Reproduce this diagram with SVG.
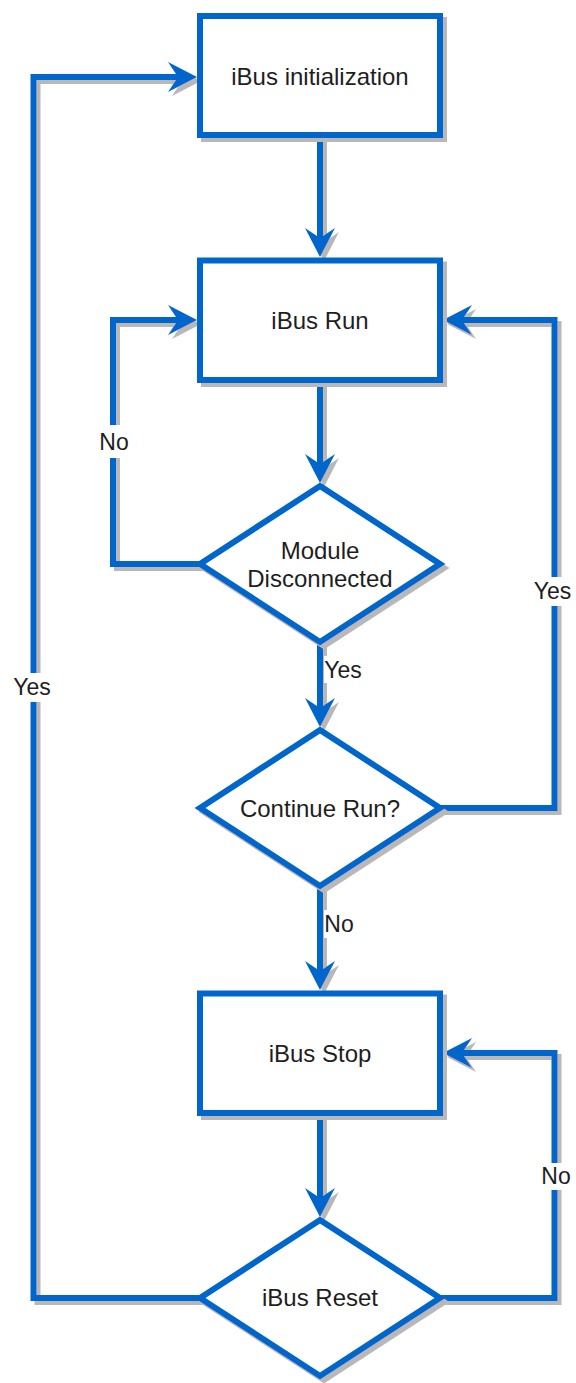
<svg xmlns="http://www.w3.org/2000/svg" width="576" height="1383" viewBox="0 0 576 1383">
  <style>
    .node { fill: #ffffff; stroke: #0066cc; stroke-width: 6; stroke-linejoin: miter; }
    .edge { fill: none; stroke: #0066cc; stroke-width: 6; stroke-linejoin: miter; marker-end: url(#arrow); }
    .edge.noarrow { marker-end: none; }
    .ntext { font-family: "Liberation Sans", Arial, sans-serif; font-size: 24px; fill: #1e1e1e; text-anchor: middle; }
    .ltext { font-family: "Liberation Sans", Arial, sans-serif; font-size: 23px; fill: #1e1e1e; text-anchor: middle; }
    .lbg { fill: #ffffff; stroke: none; }
  </style>
  <defs>
    <filter id="shadow" x="-10%" y="-10%" width="130%" height="130%">
      <feDropShadow dx="4" dy="4" stdDeviation="0.6" flood-color="#b8b8b8" flood-opacity="1"/>
    </filter>
    <marker id="arrow" markerUnits="userSpaceOnUse" markerWidth="32" markerHeight="34" refX="10" refY="16" orient="auto" overflow="visible">
      <path d="M0,1 L29,16 L0,31 L10,16 Z" fill="#0066cc" stroke="none"/>
    </marker>
  </defs>
  <rect width="576" height="1383" fill="#ffffff"/>

  <g id="connectors" filter="url(#shadow)">
    <path class="edge" d="M320,135 V238"/>
    <path class="edge" d="M320,380 V464"/>
    <path class="edge" d="M200,564 H113 V320 H178"/>
    <path class="edge" d="M320,642 V708"/>
    <path class="edge" d="M440,808 H554.5 V320 H462"/>
    <path class="edge" d="M320,886 V971"/>
    <path class="edge" d="M320,1113 V1198"/>
    <path class="edge" d="M440,1298 H554.5 V1053 H462"/>
    <path class="edge" d="M200,1298 H33.5 V77 H178"/>
  </g>

  <g id="edge-labels">
    <rect class="lbg" x="99" y="425" width="31" height="33"/>
    <text class="ltext" x="114" y="450">No</text>
    <rect class="lbg" x="324" y="656" width="39" height="27"/>
    <text class="ltext" x="343" y="678">Yes</text>
    <rect class="lbg" x="533" y="577" width="40" height="29"/>
    <text class="ltext" x="552.5" y="599">Yes</text>
    <rect class="lbg" x="324" y="910" width="31" height="28"/>
    <text class="ltext" x="339" y="932">No</text>
    <rect class="lbg" x="541" y="1163" width="30" height="27"/>
    <text class="ltext" x="556" y="1184">No</text>
    <rect class="lbg" x="13" y="673" width="39" height="29"/>
    <text class="ltext" x="32" y="695">Yes</text>
  </g>

  <g id="init">
    <rect class="node" x="200" y="16" width="240" height="119" filter="url(#shadow)"/>
    <text class="ntext" x="320" y="84.5">iBus initialization</text>
  </g>
  <g id="run">
    <rect class="node" x="200" y="260.5" width="240" height="119.5" filter="url(#shadow)"/>
    <text class="ntext" x="320" y="329">iBus Run</text>
  </g>
  <g id="module-disconnected">
    <polygon class="node" points="320,486 440,564 320,642 200,564" filter="url(#shadow)"/>
    <text class="ntext" x="320" y="559">Module</text>
    <text class="ntext" x="320" y="587">Disconnected</text>
  </g>
  <g id="continue-run">
    <polygon class="node" points="320,730 440,808 320,886 200,808" filter="url(#shadow)"/>
    <text class="ntext" x="320" y="817">Continue Run?</text>
  </g>
  <g id="stop">
    <rect class="node" x="200" y="993.5" width="240" height="119.5" filter="url(#shadow)"/>
    <text class="ntext" x="320" y="1062">iBus Stop</text>
  </g>
  <g id="reset">
    <polygon class="node" points="320,1220 440,1298 320,1376 200,1298" filter="url(#shadow)"/>
    <text class="ntext" x="320" y="1306">iBus Reset</text>
  </g>
</svg>
